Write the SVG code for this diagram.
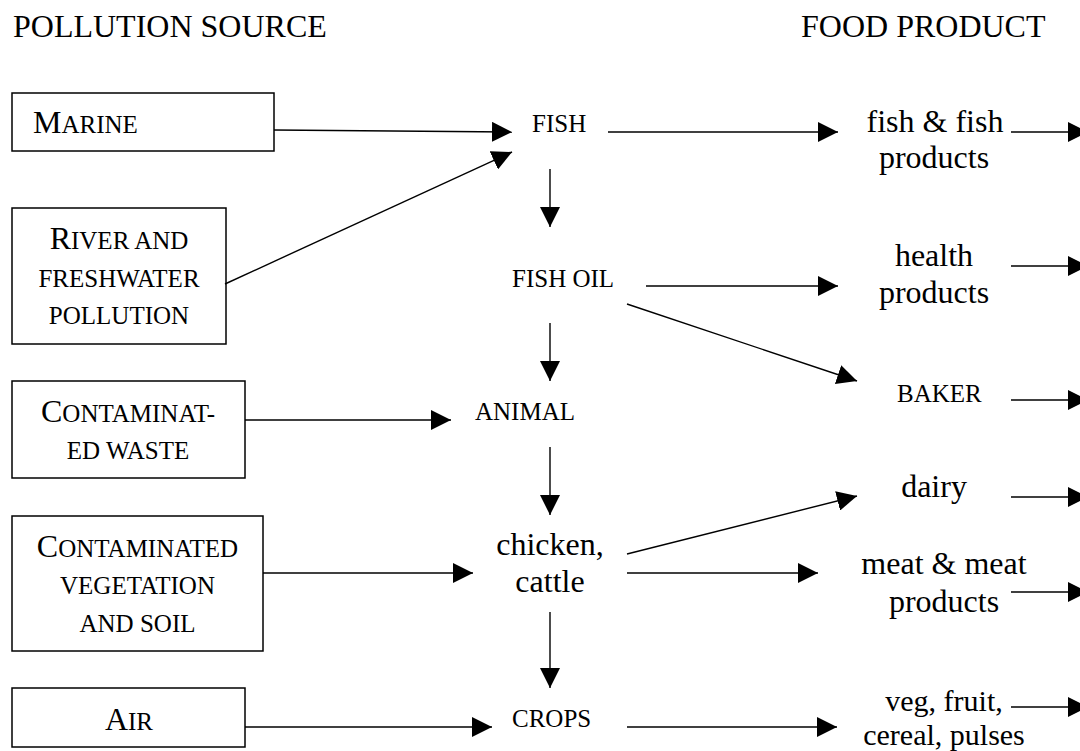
<svg xmlns="http://www.w3.org/2000/svg" width="1080" height="751" viewBox="0 0 1080 751">
<style>
text{font-family:"Liberation Serif","Times New Roman",serif;fill:#000;font-size:32px}
.sc{font-size:25px}
.sm{font-size:30px}
.box{fill:#fff;stroke:#000;stroke-width:1.5}
.c{text-anchor:middle}
#connectors line{stroke:#000;stroke-width:1.4;marker-end:url(#ah)}
</style>
<defs>
<marker id="ah" markerUnits="userSpaceOnUse" markerWidth="20" markerHeight="20" refX="20" refY="10" orient="auto" viewBox="0 0 20 20">
<path d="M0,0 L20,10 L0,20 Z" fill="#000"/>
</marker>
</defs>
<rect width="1080" height="751" fill="#fff"/>
<g id="headers">
<text x="13" y="37">POLLUTION SOURCE</text>
<text x="801" y="37">FOOD PRODUCT</text>
</g>
<g id="marine"><rect class="box" x="12" y="93" width="262" height="58"/><text x="33" y="133">M<tspan class="sc">ARINE</tspan></text></g>
<g id="river"><rect class="box" x="12" y="208" width="214" height="136"/>
<text class="c" x="119" y="249">R<tspan class="sc">IVER AND</tspan></text>
<text class="c sc" x="119" y="287">FRESHWATER</text>
<text class="c sc" x="119" y="324">POLLUTION</text></g>
<g id="waste"><rect class="box" x="12" y="381" width="233" height="97"/>
<text class="c" x="128" y="422">C<tspan class="sc">ONTAMINAT-</tspan></text>
<text class="c sc" x="128" y="459">ED WASTE</text></g>
<g id="vegetation"><rect class="box" x="12" y="516" width="251" height="135"/>
<text class="c" x="137.5" y="557">C<tspan class="sc">ONTAMINATED</tspan></text>
<text class="c sc" x="137.5" y="594">VEGETATION</text>
<text class="c sc" x="137.5" y="632">AND SOIL</text></g>
<g id="air"><rect class="box" x="12" y="688" width="233" height="59"/>
<text class="c" x="129" y="730">A<tspan class="sc">IR</tspan></text></g>
<g id="fish"><text class="sc" x="532" y="132">FISH</text></g>
<g id="fishoil"><text class="sc" x="512" y="287">FISH OIL</text></g>
<g id="animal"><text class="sc" x="475" y="420">ANIMAL</text></g>
<g id="chicken"><text class="c" x="550" y="555">chicken,</text><text class="c" x="550" y="592">cattle</text></g>
<g id="crops"><text class="sc" x="512" y="727">CROPS</text></g>
<g id="fishproducts"><text class="c" x="935" y="132">fish &amp; fish</text><text class="c" x="934" y="168">products</text></g>
<g id="health"><text class="c" x="934" y="266">health</text><text class="c" x="934" y="303">products</text></g>
<g id="baker"><text class="sc" x="897" y="402">BAKER</text></g>
<g id="dairy"><text class="c" x="934" y="497">dairy</text></g>
<g id="meat"><text class="c" x="944" y="574">meat &amp; meat</text><text class="c" x="944" y="612">products</text></g>
<g id="veg"><text class="c sm" x="944" y="711">veg, fruit,</text><text class="c sm" x="944" y="745">cereal, pulses</text></g>
<g id="connectors">
<line x1="274" y1="130" x2="512" y2="132"/>
<line x1="225" y1="284" x2="512" y2="152"/>
<line x1="245" y1="420" x2="451" y2="420"/>
<line x1="263" y1="573" x2="473" y2="573"/>
<line x1="245" y1="727" x2="492" y2="727"/>
<line x1="550" y1="169" x2="550" y2="227"/>
<line x1="550" y1="323" x2="550" y2="381"/>
<line x1="550" y1="447" x2="550" y2="515"/>
<line x1="550" y1="612" x2="550" y2="688"/>
<line x1="608" y1="132" x2="838" y2="132"/>
<line x1="646" y1="286" x2="838" y2="286"/>
<line x1="627" y1="304" x2="857" y2="381"/>
<line x1="627" y1="554" x2="857" y2="496"/>
<line x1="627" y1="573" x2="818" y2="573"/>
<line x1="627" y1="727" x2="837" y2="727"/>
<line x1="1011" y1="132" x2="1088" y2="132"/>
<line x1="1011" y1="266" x2="1088" y2="266"/>
<line x1="1011" y1="400" x2="1088" y2="400"/>
<line x1="1011" y1="497" x2="1088" y2="497"/>
<line x1="1011" y1="592" x2="1088" y2="592"/>
<line x1="1011" y1="707" x2="1088" y2="707"/>
</g>
</svg>
